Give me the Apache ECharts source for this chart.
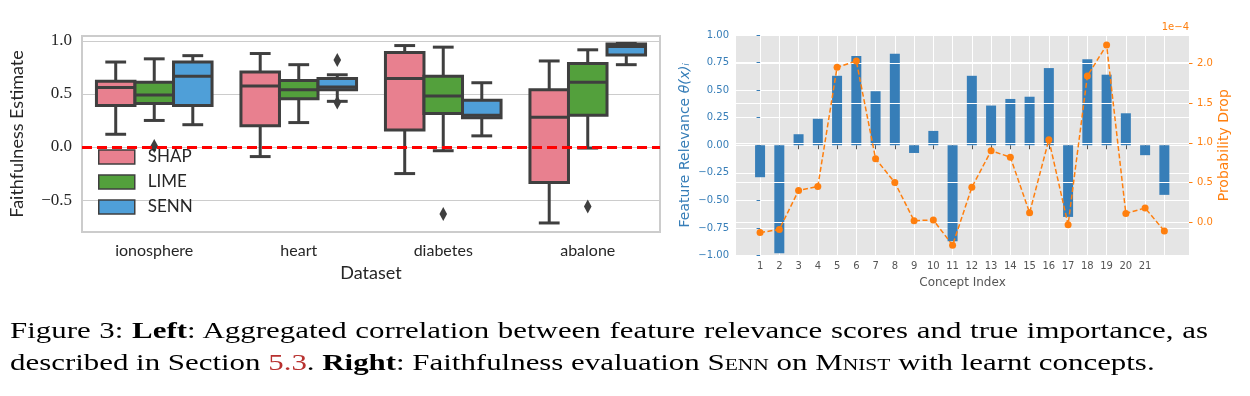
<!DOCTYPE html>
<html>
<head>
<meta charset="utf-8">
<script src="https://cdn.jsdelivr.net/npm/echarts@6/dist/echarts.min.js"></script>
<style>
html, body { margin: 0; padding: 0; background: #fff; }
#main { position: absolute; left: 0; top: 0; width: 1250px; height: 396px; }
#caption { position: absolute; left: 10px; top: 315px; width: 892px; font-family: "Liberation Serif", serif; font-size: 23px; line-height: 32px; color: #000; transform: scaleX(1.343); transform-origin: 0 0; }
#caption .l1 { text-align: justify; text-align-last: justify; }
.sc { font-variant: small-caps; }
.ref { color: #b8312f; }
</style>
</head>
<body>
<div id="main"></div>
<div id="caption">
<div class="l1">Figure 3: <b>Left</b>: Aggregated correlation between feature relevance scores and true importance, as</div>
<div>described in Section <span class="ref">5.3</span>. <b>Right</b>: Faithfulness evaluation <span class="sc">Senn</span> on <span class="sc">Mnist</span> with learnt concepts.</div>
</div>
<script>
// left panel: box plots
var datasets = ['ionosphere', 'heart', 'diabetes', 'abalone'];
var methods = ['SHAP', 'LIME', 'SENN'];
var methodColors = ['#e8808f', '#53a03c', '#4f9fd8'];
var faithTicks = [-0.5, 0, 0.5, 1];
// [low whisker, q1, median, q3, high whisker] for each dataset
var shapBoxes = [
    [0.12, 0.39, 0.56, 0.62, 0.80],
    [-0.09, 0.20, 0.575, 0.705, 0.88],
    [-0.25, 0.16, 0.645, 0.89, 0.955],
    [-0.715, -0.335, 0.28, 0.54, 0.81]
];
var limeBoxes = [
    [0.25, 0.41, 0.49, 0.61, 0.83],
    [0.23, 0.455, 0.54, 0.625, 0.775],
    [-0.035, 0.315, 0.48, 0.665, 0.94],
    [-0.01, 0.30, 0.61, 0.785, 0.915]
];
var sennBoxes = [
    [0.21, 0.39, 0.665, 0.80, 0.86],
    [0.43, 0.54, 0.565, 0.645, 0.68],
    [0.105, 0.275, 0.30, 0.44, 0.605],
    [0.775, 0.865, 0.945, 0.97, 0.975]
];
// [dataset index, method index, value]
var outliers = [
    [0, 1, 0.01],
    [1, 2, 0.82],
    [1, 2, 0.42],
    [2, 1, -0.63],
    [3, 1, -0.56]
];

// right panel: concepts
var conceptLabels = ['1', '2', '3', '4', '5', '6', '7', '8', '9', '10', '11',
    '12', '13', '14', '15', '16', '17', '18', '19', '20', '21', ''];
var relevance = [-0.29, -0.98, 0.10, 0.24, 0.63, 0.81, 0.49, 0.83, -0.07, 0.13, -0.87,
    0.63, 0.36, 0.42, 0.44, 0.70, -0.65, 0.78, 0.64, 0.29, -0.09, -0.45];
var probDrop = [-0.13, -0.09, 0.40, 0.45, 1.95, 2.03, 0.80, 0.50, 0.02, 0.03, -0.29,
    0.44, 0.90, 0.82, 0.12, 1.04, -0.03, 1.84, 2.23, 0.11, 0.18, -0.11];
var dropTicks = [0, 0.5, 1, 1.5, 2];

var edge = '#3f3f3f';
var blue = '#377eb8';
var orange = '#ff7f0e';
var conceptTicks = conceptLabels.map(function (l, i) { return i; });

function minusFmt(digits) {
    return function (v) { return v.toFixed(digits).replace('-', '\u2212'); };
}

// seaborn style box, three hues side by side in 80% of the band
function boxRenderer(hue) {
    return function (params, api) {
        var cat = api.value(0);
        var w = api.size([1, 0])[0] * 0.8 / 3;
        var cx = api.coord([cat, 0])[0] + (hue - 1) * w;
        var y = [1, 2, 3, 4, 5].map(function (d) { return api.coord([cat, api.value(d)])[1]; });
        var line = { stroke: edge, lineWidth: 3 };
        var cap = w * 0.27;
        return {
            type: 'group',
            children: [
                { type: 'line', shape: { x1: cx, y1: y[3], x2: cx, y2: y[4] }, style: line },
                { type: 'line', shape: { x1: cx, y1: y[1], x2: cx, y2: y[0] }, style: line },
                { type: 'line', shape: { x1: cx - cap, y1: y[4], x2: cx + cap, y2: y[4] }, style: line },
                { type: 'line', shape: { x1: cx - cap, y1: y[0], x2: cx + cap, y2: y[0] }, style: line },
                { type: 'rect', shape: { x: cx - w / 2, y: y[3], width: w, height: y[1] - y[3] },
                    style: { fill: methodColors[hue], stroke: edge, lineWidth: 3 } },
                { type: 'line', shape: { x1: cx - w / 2, y1: y[2], x2: cx + w / 2, y2: y[2] }, style: line }
            ]
        };
    };
}

function boxSeries(name, boxes, hue) {
    return {
        type: 'custom',
        name: name,
        xAxisIndex: 0,
        yAxisIndex: 0,
        itemStyle: { color: methodColors[hue] },
        encode: { x: 0, y: [1, 2, 3, 4, 5] },
        data: boxes.map(function (b, i) { return [i].concat(b); }),
        renderItem: boxRenderer(hue)
    };
}

var option = {
    animation: false,
    textStyle: { fontFamily: 'DejaVu Sans' },
    grid: [
        { left: 82, top: 36, width: 578, height: 196, show: true, borderColor: '#cccccc', borderWidth: 2, backgroundColor: 'transparent' },
        { left: 736, top: 35, width: 453, height: 220.5, show: true, borderWidth: 0, backgroundColor: '#e5e5e5' }
    ],
    legend: {
        orient: 'vertical',
        left: 98,
        top: 148.5,
        padding: 0,
        itemWidth: 36,
        itemHeight: 14,
        itemGap: 8,
        selectedMode: false,
        data: methods.map(function (m, i) {
            return { name: m, icon: 'rect', itemStyle: { color: methodColors[i], borderColor: edge, borderWidth: 1.5 } };
        }),
        textStyle: { fontFamily: 'Lato', fontSize: 17, color: '#262626', padding: [0, 0, 0, 8] }
    },
    xAxis: [{
        gridIndex: 0,
        type: 'category',
        data: datasets,
        axisLine: { show: false },
        axisTick: { show: false },
        axisLabel: { fontFamily: 'Lato', fontSize: 16, color: '#262626', margin: 11 },
        splitLine: { show: false },
        name: 'Dataset',
        nameLocation: 'middle',
        nameGap: 32,
        nameTextStyle: { fontFamily: 'Lato', fontSize: 18, color: '#262626' }
    }, {
        gridIndex: 1,
        type: 'value',
        min: -1.25,
        max: 22.28,
        axisLine: { show: false },
        axisTick: { show: true, customValues: conceptTicks, length: 4, lineStyle: { color: '#555555' } },
        axisLabel: {
            customValues: conceptTicks,
            formatter: function (v) { return conceptLabels[Math.round(v)]; },
            color: '#555555', fontSize: 10, margin: 6
        },
        splitLine: { show: true, lineStyle: { color: '#ffffff', width: 1 } },
        name: 'Concept Index',
        nameLocation: 'middle',
        nameGap: 19,
        nameTextStyle: { fontSize: 12, color: '#555555' }
    }],
    yAxis: [{
        gridIndex: 0,
        type: 'value',
        min: -0.8,
        max: 1.045,
        axisLine: { show: false },
        axisTick: { show: false, customValues: faithTicks },
        axisLabel: { customValues: faithTicks, formatter: minusFmt(1), fontFamily: 'Liberation Serif', fontSize: 17, color: '#262626', margin: 10 },
        splitLine: { show: true, lineStyle: { color: '#cccccc', width: 1 } },
        name: 'Faithfulness Estimate',
        nameLocation: 'middle',
        nameRotate: 90,
        nameGap: 56,
        nameTextStyle: { fontFamily: 'Lato', fontSize: 18, color: '#262626' }
    }, {
        gridIndex: 1,
        type: 'value',
        position: 'left',
        min: -1,
        max: 1,
        interval: 0.25,
        axisLine: { show: false },
        axisTick: { show: true, length: 3.5, lineStyle: { color: blue } },
        axisLabel: { formatter: minusFmt(2), color: blue, fontSize: 10, margin: 7 },
        splitLine: { show: true, lineStyle: { color: '#ffffff', width: 1 } },
        name: 'Feature Relevance {it|\u03b8(x)\u1d62}',
        nameLocation: 'middle',
        nameRotate: 90,
        nameGap: 44,
        nameTextStyle: { fontSize: 14, color: blue, rich: { it: { fontSize: 14, fontStyle: 'italic', color: blue } } }
    }, {
        gridIndex: 1,
        type: 'value',
        position: 'right',
        min: -0.418,
        max: 2.357,
        z: 3,
        axisLine: { show: false },
        axisTick: { show: true, customValues: dropTicks, length: 3.5, lineStyle: { color: orange } },
        axisLabel: { customValues: dropTicks, formatter: minusFmt(1), color: orange, fontSize: 10, margin: 8 },
        splitLine: { show: true, lineStyle: { color: '#ffffff', width: 1 } },
        name: 'Probability Drop',
        nameLocation: 'middle',
        nameRotate: 90,
        nameGap: 28,
        nameTextStyle: { fontSize: 14, color: orange }
    }],
    graphic: [{
        type: 'text',
        right: 61,
        top: 22,
        style: { text: '1e\u22124', fill: orange, font: '10px "DejaVu Sans"' }
    }],
    series: [
        boxSeries('SHAP', shapBoxes, 0),
        boxSeries('LIME', limeBoxes, 1),
        boxSeries('SENN', sennBoxes, 2),
        {
            type: 'custom',
            name: 'outliers',
            xAxisIndex: 0,
            yAxisIndex: 0,
            z: 3,
            encode: { x: 0, y: 2 },
            data: outliers,
            renderItem: function (params, api) {
                var cat = api.value(0);
                var w = api.size([1, 0])[0] * 0.8 / 3;
                var p = api.coord([cat, api.value(2)]);
                var cx = p[0] + (api.value(1) - 1) * w;
                return {
                    type: 'polygon',
                    shape: { points: [[cx, p[1] - 7], [cx + 3.8, p[1]], [cx, p[1] + 7], [cx - 3.8, p[1]]] },
                    style: { fill: edge }
                };
            },
            markLine: {
                silent: true,
                symbol: ['none', 'none'],
                label: { show: false },
                lineStyle: { color: '#ff0000', type: [10, 5], width: 3 },
                data: [{ yAxis: 0 }]
            }
        },
        {
            type: 'bar',
            name: 'relevance',
            xAxisIndex: 1,
            yAxisIndex: 1,
            barWidth: 10,
            z: 2,
            itemStyle: { color: blue },
            data: relevance.map(function (v, i) { return [i, v]; })
        },
        {
            type: 'line',
            name: 'drop',
            xAxisIndex: 1,
            yAxisIndex: 2,
            z: 5,
            symbol: 'circle',
            symbolSize: 7,
            itemStyle: { color: orange },
            lineStyle: { color: orange, width: 1.5, type: [5, 2.5] },
            data: probDrop.map(function (v, i) { return [i, v]; })
        }
    ]
};

var myChart = echarts.init(document.getElementById('main'));
myChart.setOption(option);
</script>
</body>
</html>
